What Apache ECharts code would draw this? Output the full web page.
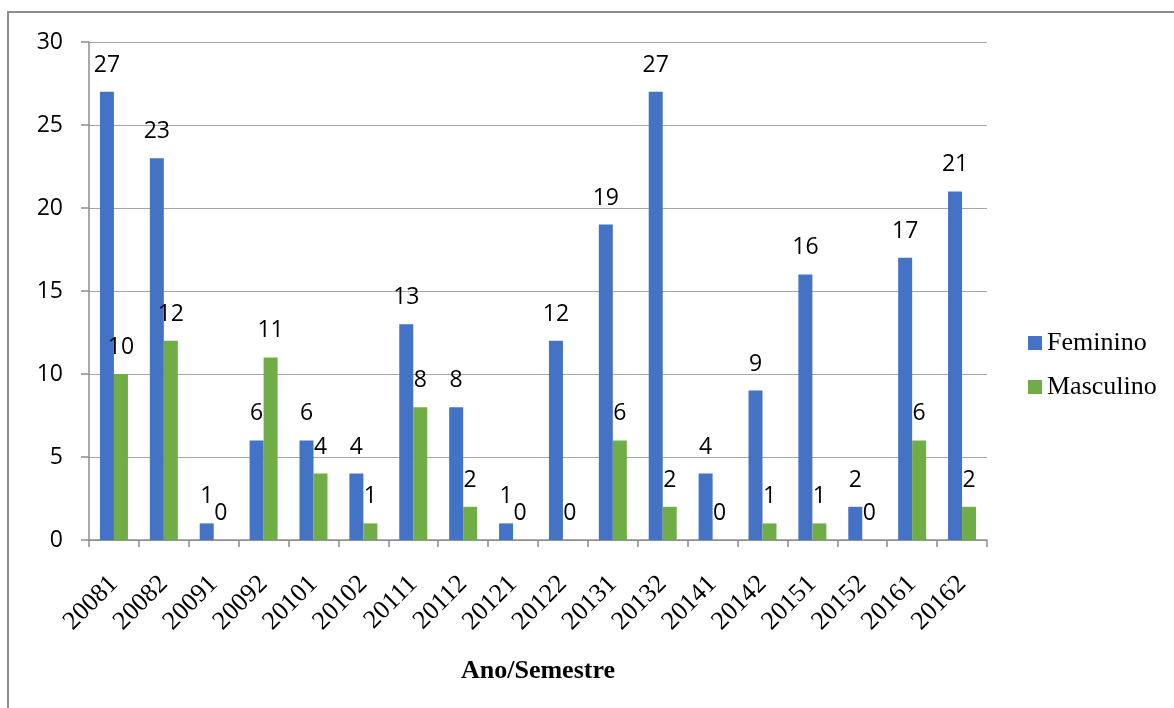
<!DOCTYPE html>
<html>
<head>
<meta charset="utf-8">
<script src="https://cdn.jsdelivr.net/npm/echarts@6/dist/echarts.min.js"></script>
<style>
  html, body { margin: 0; padding: 0; background: #ffffff; }
  #chart { width: 1174px; height: 708px; }
</style>
</head>
<body>
<div id="chart"></div>
<script>
// Semesters (year + semester number)
const categories = ['20081','20082','20091','20092','20101','20102','20111','20112','20121',
                    '20122','20131','20132','20141','20142','20151','20152','20161','20162'];
const feminino  = [27, 23, 1, 6, 6, 4, 13, 8, 1, 12, 19, 27, 4, 9, 16, 2, 17, 21];
const masculino = [10, 12, 0, 11, 4, 1, 8, 2, 0, 0, 6, 2, 0, 1, 1, 0, 6, 2];
const yTicks = { min: 0, max: 30, interval: 5 };

const chart = echarts.init(document.getElementById('chart'), null, { renderer: 'canvas' });

const labelStyle = {
  show: true,
  position: 'top',
  distance: 15,
  color: '#000000',
  fontFamily: '"Open Sans", sans-serif',
  fontSize: 23
};

chart.setOption({
  animation: false,
  backgroundColor: '#ffffff',
  graphic: [{
    type: 'rect',
    shape: { x: 8, y: 12, width: 1250, height: 800 },
    style: { fill: 'none', stroke: '#8c8c8c', lineWidth: 2 },
    silent: true
  }],
  grid: { left: 89, right: 187, top: 42, bottom: 168 },
  legend: {
    orient: 'vertical',
    left: 1023,
    top: 325,
    itemWidth: 14,
    itemHeight: 14,
    itemGap: 18,
    icon: 'rect',
    textStyle: {
      fontFamily: '"Liberation Serif", "Times New Roman", serif',
      fontSize: 26,
      color: '#000000',
      lineHeight: 26
    },
    data: ['Feminino', 'Masculino']
  },
  xAxis: {
    type: 'category',
    data: categories,
    name: 'Ano/Semestre',
    nameLocation: 'middle',
    nameGap: 118,
    nameTextStyle: {
      fontFamily: '"Liberation Serif", "Times New Roman", serif',
      fontWeight: 'bold',
      fontSize: 26,
      color: '#000000'
    },
    axisLine: { show: true, lineStyle: { color: '#8c8c8c', width: 1.5 } },
    axisTick: { show: true, alignWithLabel: false, length: 7, lineStyle: { color: '#8c8c8c', width: 1.5 } },
    axisLabel: {
      rotate: 45,
      margin: 40,
      interval: 0,
      fontFamily: '"Liberation Serif", "Times New Roman", serif',
      fontSize: 26,
      color: '#000000'
    }
  },
  yAxis: {
    type: 'value',
    min: yTicks.min,
    max: yTicks.max,
    interval: yTicks.interval,
    axisLine: { show: true, lineStyle: { color: '#8c8c8c', width: 1.5 } },
    axisTick: { show: true, inside: false, length: 8, lineStyle: { color: '#8c8c8c', width: 1.5 } },
    splitLine: { show: true, lineStyle: { color: '#a6a6a6', width: 1.2 } },
    axisLabel: {
      margin: 26,
      fontFamily: '"Open Sans", sans-serif',
      fontSize: 23,
      color: '#000000'
    }
  },
  series: [
    {
      name: 'Feminino',
      type: 'bar',
      data: feminino,
      barWidth: 14,
      barGap: '0%',
      itemStyle: { color: '#4472c4' },
      label: labelStyle
    },
    {
      name: 'Masculino',
      type: 'bar',
      data: masculino,
      barWidth: 14,
      barGap: '0%',
      itemStyle: { color: '#70ad47' },
      label: labelStyle
    }
  ]
});
</script>
</body>
</html>
